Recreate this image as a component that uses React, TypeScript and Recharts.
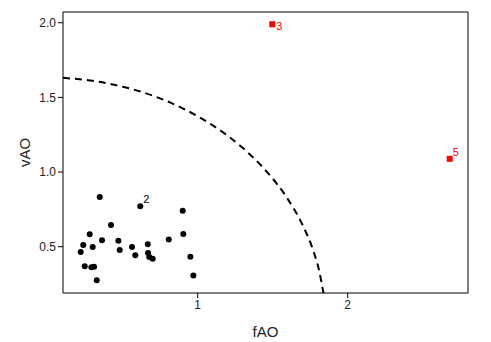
import { ScatterChart, Scatter, XAxis, YAxis, ReferenceLine, Label } from 'recharts';

// black points (fAO, vAO)
const fAO = [0.347, 0.422, 0.28, 0.362, 0.237, 0.3, 0.22, 0.471, 0.48, 0.562, 0.584, 0.247, 0.291, 0.309, 0.327,
  0.617, 0.9, 0.904, 0.807, 0.667, 0.669, 0.677, 0.7, 0.951, 0.971];
const vAO = [0.833, 0.646, 0.583, 0.543, 0.511, 0.498, 0.464, 0.54, 0.478, 0.498, 0.442, 0.369, 0.362, 0.366, 0.275,
  0.771, 0.741, 0.585, 0.549, 0.516, 0.458, 0.431, 0.42, 0.433, 0.308];
const pointLabels: Record<number, string> = { 15: '2' };

// outliers shown in red
const outFAO = [1.497, 2.68];
const outVAO = [1.99, 1.089];
const outLabels = ['3', '5'];

// dashed cutoff curve
const curveX = [0.102, 0.3, 0.5, 0.7, 0.9, 1.1, 1.3, 1.45, 1.6, 1.7, 1.77, 1.81, 1.838];
const curveY = [1.631, 1.611, 1.572, 1.512, 1.427, 1.313, 1.162, 1.014, 0.82, 0.644, 0.475, 0.338, 0.19];

const xTicks = [1, 2];
const yTicks = [0.5, 1.0, 1.5, 2.0];

const X_DOMAIN: [number, number] = [0.102, 2.802];
const Y_DOMAIN: [number, number] = [0.19, 2.072];

const points = fAO.map((x, i) => ({ x, y: vAO[i], label: pointLabels[i] }));
const outliers = outFAO.map((x, i) => ({ x, y: outVAO[i], label: outLabels[i] }));
const curve = curveX.map((x, i) => ({ x, y: curveY[i] }));

const labelOffset: Record<string, [number, number]> = {
  '2': [3, -3],
  '3': [4, 6],
  '5': [3, -3],
};

const font = '"Liberation Sans", Arial, sans-serif';

function Dot(props: any) {
  const { cx, cy, payload } = props;
  const off = payload.label ? labelOffset[payload.label] : null;
  return (
    <g>
      <circle cx={cx} cy={cy} r={3} fill="#000" />
      {off && (
        <text x={cx + off[0]} y={cy + off[1]} fontSize={11} fill="#000" fontFamily={font}>
          {payload.label}
        </text>
      )}
    </g>
  );
}

function Square(props: any) {
  const { cx, cy, payload } = props;
  const off = labelOffset[payload.label];
  return (
    <g>
      <rect x={cx - 3} y={cy - 3} width={6} height={6} fill="#ff0000" />
      <text x={cx + off[0]} y={cy + off[1]} fontSize={11} fill="#ff0000" fontFamily={font}>
        {payload.label}
      </text>
    </g>
  );
}

export default function App() {
  return (
    <div style={{ position: 'absolute', left: 0, top: 0, background: '#fff' }}>
      <ScatterChart
        width={491}
        height={342}
        margin={{ top: 12, right: 23, bottom: 0, left: 0 }}
        style={{ fontFamily: font }}
      >
        <XAxis
          type="number"
          dataKey="x"
          domain={X_DOMAIN}
          ticks={xTicks}
          allowDataOverflow
          height={49}
          stroke="#000"
          tickSize={5}
          tickMargin={2}
          tick={{ fontSize: 12, fill: '#222' }}
        >
          <Label value="fAO" position="insideBottom" offset={5} style={{ fontSize: 15, fill: '#222' }} />
        </XAxis>
        <YAxis
          type="number"
          dataKey="y"
          domain={Y_DOMAIN}
          ticks={yTicks}
          allowDataOverflow
          width={63}
          stroke="#000"
          tickSize={5}
          tickMargin={2}
          tickFormatter={(v: number) => v.toFixed(1)}
          tick={{ fontSize: 12, fill: '#222' }}
        >
          <Label
            content={({ viewBox }: any) => {
              const cx = 24;
              const cy = viewBox.y + viewBox.height / 2;
              return (
                <text
                  x={cx}
                  y={cy}
                  transform={`rotate(-90 ${cx} ${cy})`}
                  textAnchor="middle"
                  dominantBaseline="central"
                  fontSize={15}
                  fill="#222"
                  fontFamily={font}
                >
                  vAO
                </text>
              );
            }}
          />
        </YAxis>
        <ReferenceLine y={Y_DOMAIN[1]} stroke="#000" strokeWidth={1} />
        <ReferenceLine x={X_DOMAIN[1]} stroke="#000" strokeWidth={1} />
        <Scatter
          data={curve}
          line={{ stroke: '#000', strokeWidth: 2, strokeDasharray: '7 5' }}
          lineJointType="monotoneX"
          shape={() => <g />}
          isAnimationActive={false}
        />
        <Scatter data={points} shape={<Dot />} isAnimationActive={false} />
        <Scatter data={outliers} shape={<Square />} isAnimationActive={false} />
      </ScatterChart>
    </div>
  );
}
